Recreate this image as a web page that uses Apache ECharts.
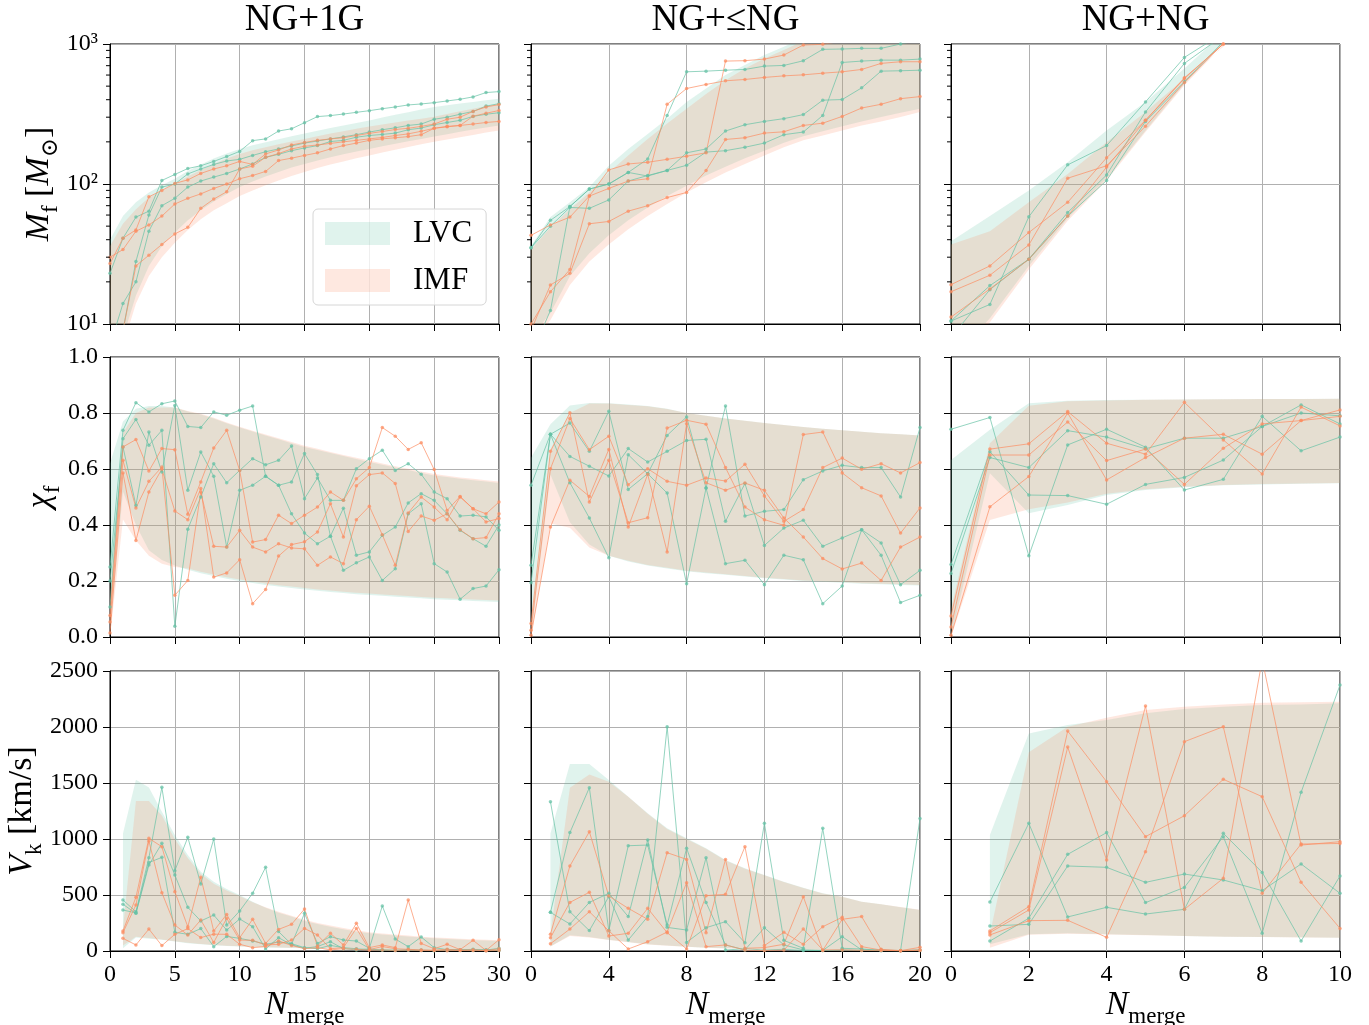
<!DOCTYPE html>
<html>
<head>
<meta charset="utf-8">
<script src="https://cdn.jsdelivr.net/npm/echarts@6/dist/echarts.min.js"></script>
<style>html,body{margin:0;padding:0;background:#fff}#c{width:1369px;height:1025px}</style>
</head>
<body>
<div id="c"></div>
<script>
// ---------- categories / ticks ----------
const colTitles = ['NG+1G', 'NG+\u2264NG', 'NG+NG'];
const N_col1 = Array.from({length: 31}, (_, i) => i);
const N_col2 = Array.from({length: 21}, (_, i) => i);
const N_col3 = Array.from({length: 11}, (_, i) => i);
const xMaxes = [30, 20, 10];
const xIntervals = [5, 4, 2];
const logMinorTicks = [20, 30, 40, 50, 60, 70, 80, 90, 200, 300, 400, 500, 600, 700, 800, 900];

// ---------- Row 1: M_f ----------
// NG+1G
const mf1_lvc_lo = [5, 8, 16, 26, 36, 45, 55, 65, 75, 85, 95, 104, 113, 122, 131, 139, 147, 155, 163, 171, 178, 186, 194, 202, 210, 218, 227, 236, 245, 253, 262];
const mf1_lvc_hi = [40, 59, 74, 87, 98, 109, 124, 138, 152, 165, 178, 189, 199, 209, 219, 229, 240, 251, 262, 273, 284, 298, 312, 326, 340, 355, 365, 376, 386, 397, 407];
const mf1_imf_lo = [4, 7, 14, 22, 30, 38, 47, 56, 65, 73, 82, 90, 98, 106, 114, 122, 130, 138, 145, 153, 160, 168, 176, 184, 192, 200, 208, 216, 224, 233, 241];
const mf1_imf_hi = [36, 52, 66, 80, 90, 100, 113, 126, 139, 152, 164, 174, 183, 192, 201, 210, 219, 229, 238, 248, 257, 266, 275, 284, 293, 302, 316, 331, 345, 360, 374];
const mf1_g1 = [23, 41, 58, 64, 106, 117, 129, 135, 145, 157, 171, 204, 210, 239, 248, 274, 303, 308, 316, 325, 334, 345, 355, 367, 373, 381, 392, 403, 419, 450, 457];
const mf1_g2 = [7, 14, 20, 46, 70, 79, 95, 105, 112, 119, 128, 139, 155, 163, 173, 181, 188, 201, 205, 216, 222, 226, 231, 244, 251, 265, 275, 285, 304, 315, 323];
const mf1_g3 = [5, 9, 28, 60, 95, 100, 118, 128, 138, 146, 150, 160, 170, 178, 187, 196, 203, 210, 217, 225, 235, 244, 252, 262, 268, 290, 300, 315, 330, 360, 375];
const mf1_o1 = [27, 41, 47, 81, 90, 101, 107, 119, 128, 135, 145, 138, 164, 175, 190, 198, 205, 210, 214, 222, 230, 237, 245, 250, 258, 268, 290, 300, 330, 355, 369];
const mf1_o2 = [30, 34, 46, 51, 59, 72, 79, 85, 93, 100, 109, 115, 123, 147, 153, 160, 167, 178, 188, 196, 205, 210, 214, 218, 225, 250, 258, 262, 305, 320, 335];
const mf1_o3 = [6, 9, 26, 31, 37, 44, 49, 67, 78, 88, 128, 134, 155, 165, 178, 186, 190, 195, 200, 205, 210, 215, 222, 228, 238, 250, 256, 262, 268, 275, 280];
// NG+<=NG
const mf2_lvc_lo = [8, 12, 22, 32, 43, 55, 68, 82, 97, 115, 133, 153, 173, 197, 219, 238, 259, 280, 301, 323, 345];
const mf2_lvc_hi = [36, 58, 74, 95, 135, 178, 228, 293, 386, 481, 600, 707, 834, 957, 1100, 1200, 1300, 1380, 1450, 1520, 1600];
const mf2_imf_lo = [7, 10.7, 19, 28, 37, 47.5, 59, 72, 87, 103, 121, 139, 160, 183, 205, 222, 241, 262, 280, 301, 327];
const mf2_imf_hi = [34, 49, 66, 87, 121, 160, 210, 270, 345, 440, 552, 668, 789, 906, 1050, 1150, 1250, 1330, 1400, 1450, 1500];
const mf2_g1 = [35, 55, 69, 92, 100, 121, 151, 309, 633, 640, 650, 658, 695, 703, 759, 916, 921, 931, 931, 1000, 1070];
const mf2_g2 = [35, 50, 68, 67, 77, 105, 115, 125, 136, 169, 173, 183, 196, 225, 235, 309, 738, 755, 767, 767, 780];
const mf2_g3 = [6, 12.5, 69, 92, 100, 121, 114, 125, 167, 178, 239, 265, 280, 293, 313, 397, 401, 486, 640, 644, 650];
const mf2_o1 = [43, 51, 58, 82, 126, 139, 143, 150, 158, 167, 755, 760, 780, 834, 983, 995, 1050, 1080, 1100, 1120, 1150];
const mf2_o2 = [10, 17, 24.5, 82, 93, 105, 109, 371, 481, 514, 546, 558, 577, 592, 602, 619, 633, 658, 727, 747, 747];
const mf2_o3 = [9, 19, 23, 52, 54, 64, 70, 80, 87, 125, 208, 214, 231, 236, 262, 272, 304, 349, 371, 407, 421];
// NG+NG
const mf3_lvc_lo = [5.5, 11, 26, 57, 110, 240, 520, 1000, 2000, 3800, 7000];
const mf3_lvc_hi = [39, 59, 90, 143, 241, 386, 668, 1200, 2200, 4000, 7200];
const mf3_imf_lo = [5, 10.3, 24.5, 54.6, 106, 235, 508, 983, 1900, 3600, 6500];
const mf3_imf_hi = [37, 46, 74, 118, 199, 327, 567, 957, 1800, 3500, 6000];
const mf3_g1 = [10.5, 13.8, 58.3, 137, 188, 386, 802, 1200, 2500, 5000, 9000];
const mf3_g2 = [10.5, 18.8, 29, 62.6, 116, 327, 727, 1150, 2400, 4800, 8500];
const mf3_g3 = [8, 17.6, 29, 59, 106, 280, 537, 1040, 2200, 4500, 8000];
const mf3_o1 = [19.1, 26, 45, 74, 154, 285, 573, 998, 2000, 4000, 7500];
const mf3_o2 = [17, 22.3, 36.7, 110, 135, 259, 531, 1010, 2100, 4200, 7800];
const mf3_o3 = [11.2, 17.8, 29, 59, 132, 285, 567, 1000, 2000, 4100, 7600];

// ---------- Row 2: chi_f ----------
const chi1_lvc_lo = [0.02, 0.52, 0.40, 0.31, 0.275, 0.255, 0.24, 0.228, 0.218, 0.208, 0.2, 0.193, 0.186, 0.18, 0.175, 0.17, 0.165, 0.161, 0.157, 0.153, 0.15, 0.147, 0.144, 0.141, 0.138, 0.135, 0.133, 0.131, 0.129, 0.127, 0.125];
const chi1_lvc_hi = [0.62, 0.77, 0.815, 0.825, 0.825, 0.82, 0.805, 0.795, 0.78, 0.763, 0.748, 0.734, 0.72, 0.706, 0.692, 0.679, 0.668, 0.657, 0.646, 0.636, 0.625, 0.615, 0.605, 0.596, 0.586, 0.577, 0.571, 0.565, 0.56, 0.555, 0.55];
const chi1_imf_lo = [0.0, 0.42, 0.345, 0.29, 0.262, 0.25, 0.245, 0.233, 0.223, 0.213, 0.205, 0.198, 0.191, 0.185, 0.18, 0.175, 0.17, 0.166, 0.162, 0.158, 0.155, 0.152, 0.149, 0.146, 0.143, 0.14, 0.138, 0.136, 0.134, 0.132, 0.13];
const chi1_imf_hi = [0.15, 0.73, 0.80, 0.82, 0.82, 0.82, 0.807, 0.797, 0.783, 0.766, 0.751, 0.737, 0.723, 0.71, 0.696, 0.683, 0.672, 0.661, 0.65, 0.64, 0.63, 0.62, 0.61, 0.601, 0.591, 0.582, 0.576, 0.57, 0.565, 0.56, 0.555];
const chi1_g1 = [0.25, 0.738, 0.837, 0.804, 0.833, 0.843, 0.752, 0.748, 0.804, 0.792, 0.81, 0.825, 0.574, 0.542, 0.44, 0.371, 0.333, 0.36, 0.238, 0.265, 0.286, 0.202, 0.244, 0.44, 0.476, 0.262, 0.232, 0.135, 0.173, 0.182, 0.24];
const chi1_g2 = [0.107, 0.708, 0.777, 0.685, 0.738, 0.038, 0.385, 0.5, 0.619, 0.551, 0.595, 0.637, 0.615, 0.631, 0.682, 0.494, 0.568, 0.488, 0.488, 0.601, 0.637, 0.667, 0.595, 0.619, 0.581, 0.518, 0.494, 0.432, 0.435, 0.429, 0.381];
const chi1_g3 = [0.2, 0.679, 0.47, 0.732, 0.589, 0.827, 0.524, 0.661, 0.574, 0.321, 0.524, 0.542, 0.574, 0.542, 0.554, 0.655, 0.58, 0.36, 0.46, 0.292, 0.304, 0.363, 0.393, 0.479, 0.512, 0.488, 0.44, 0.381, 0.351, 0.324, 0.4];
const chi1_o1 = [0.077, 0.679, 0.705, 0.593, 0.673, 0.669, 0.438, 0.554, 0.675, 0.738, 0.595, 0.339, 0.348, 0.435, 0.405, 0.435, 0.464, 0.518, 0.488, 0.565, 0.605, 0.748, 0.717, 0.67, 0.694, 0.598, 0.452, 0.502, 0.458, 0.44, 0.482];
const chi1_o2 = [0.054, 0.631, 0.461, 0.556, 0.607, 0.149, 0.202, 0.518, 0.324, 0.321, 0.381, 0.321, 0.304, 0.333, 0.318, 0.315, 0.256, 0.286, 0.262, 0.419, 0.467, 0.365, 0.256, 0.443, 0.5, 0.464, 0.419, 0.5, 0.458, 0.411, 0.423];
const chi1_o3 = [0.014, 0.586, 0.345, 0.518, 0.6, 0.45, 0.419, 0.53, 0.214, 0.229, 0.276, 0.119, 0.17, 0.289, 0.33, 0.34, 0.375, 0.476, 0.357, 0.54, 0.58, 0.586, 0.548, 0.377, 0.432, 0.417, 0.44, 0.383, 0.351, 0.355, 0.44];

const chi2_lvc_lo = [0.0, 0.58, 0.41, 0.33, 0.29, 0.27, 0.255, 0.245, 0.235, 0.228, 0.222, 0.216, 0.21, 0.205, 0.2, 0.197, 0.194, 0.19, 0.188, 0.186, 0.184];
const chi2_lvc_hi = [0.64, 0.76, 0.827, 0.836, 0.835, 0.83, 0.825, 0.815, 0.8, 0.79, 0.78, 0.772, 0.764, 0.757, 0.75, 0.744, 0.738, 0.733, 0.728, 0.724, 0.72];
const chi2_imf_lo = [0.0, 0.405, 0.39, 0.32, 0.29, 0.272, 0.257, 0.247, 0.237, 0.23, 0.224, 0.218, 0.212, 0.207, 0.202, 0.199, 0.196, 0.192, 0.19, 0.188, 0.186];
const chi2_imf_hi = [0.02, 0.67, 0.8, 0.834, 0.834, 0.829, 0.824, 0.814, 0.8, 0.79, 0.78, 0.772, 0.764, 0.757, 0.75, 0.744, 0.738, 0.733, 0.728, 0.724, 0.72];
const chi2_g1 = [0.542, 0.724, 0.764, 0.663, 0.806, 0.527, 0.583, 0.72, 0.786, 0.532, 0.825, 0.432, 0.449, 0.455, 0.562, 0.593, 0.613, 0.605, 0.605, 0.5, 0.748];
const chi2_g2 = [0.256, 0.724, 0.645, 0.61, 0.575, 0.673, 0.625, 0.663, 0.702, 0.706, 0.413, 0.548, 0.327, 0.389, 0.417, 0.324, 0.354, 0.383, 0.336, 0.187, 0.238];
const chi2_g3 = [0.194, 0.724, 0.551, 0.425, 0.283, 0.651, 0.583, 0.514, 0.19, 0.532, 0.262, 0.274, 0.187, 0.292, 0.276, 0.119, 0.182, 0.383, 0.292, 0.123, 0.149];
const chi2_o1 = [0.048, 0.663, 0.801, 0.482, 0.631, 0.408, 0.426, 0.746, 0.774, 0.76, 0.605, 0.464, 0.419, 0.399, 0.723, 0.732, 0.586, 0.533, 0.504, 0.371, 0.461];
const chi2_o2 = [0.024, 0.601, 0.78, 0.669, 0.717, 0.544, 0.601, 0.556, 0.542, 0.568, 0.557, 0.617, 0.504, 0.413, 0.455, 0.605, 0.639, 0.599, 0.619, 0.586, 0.623];
const chi2_o3 = [0.006, 0.393, 0.56, 0.502, 0.67, 0.393, 0.581, 0.304, 0.762, 0.551, 0.524, 0.55, 0.524, 0.425, 0.357, 0.28, 0.243, 0.264, 0.202, 0.321, 0.357];

const chi3_lvc_lo = [0.0, 0.585, 0.442, 0.471, 0.507, 0.525, 0.535, 0.542, 0.545, 0.547, 0.549];
const chi3_lvc_hi = [0.632, 0.74, 0.835, 0.844, 0.846, 0.847, 0.848, 0.849, 0.85, 0.85, 0.851];
const chi3_imf_lo = [0.0, 0.418, 0.456, 0.48, 0.512, 0.528, 0.537, 0.543, 0.546, 0.548, 0.55];
const chi3_imf_hi = [0.1, 0.692, 0.826, 0.842, 0.845, 0.847, 0.848, 0.849, 0.85, 0.85, 0.851];
const chi3_g1 = [0.742, 0.784, 0.29, 0.686, 0.742, 0.678, 0.525, 0.563, 0.788, 0.665, 0.714];
const chi3_g2 = [0.259, 0.662, 0.507, 0.505, 0.474, 0.545, 0.57, 0.632, 0.752, 0.829, 0.761];
const chi3_g3 = [0.227, 0.641, 0.605, 0.737, 0.714, 0.672, 0.71, 0.71, 0.752, 0.8, 0.79];
const chi3_o1 = [0.075, 0.671, 0.69, 0.805, 0.692, 0.653, 0.838, 0.704, 0.582, 0.821, 0.754];
const chi3_o2 = [0.036, 0.65, 0.65, 0.768, 0.63, 0.671, 0.545, 0.674, 0.761, 0.773, 0.811];
const chi3_o3 = [0.006, 0.465, 0.573, 0.8, 0.561, 0.641, 0.71, 0.724, 0.653, 0.773, 0.788];

// ---------- Row 3: V_k [km/s] ----------
const vk1_lvc_lo = [null, 25, 120, 110, 100, 85, 70, 60, 52, 45, 40, 36, 32, 29, 26, 24, 22, 20, 18, 17, 16, 15, 14, 13, 12, 11, 10, 9, 9, 8, 8];
const vk1_lvc_hi = [null, 1050, 1530, 1460, 1244, 1036, 857, 708, 619, 554, 500, 440, 387, 342, 307, 268, 240, 217, 195, 175, 158, 148, 138, 130, 120, 113, 108, 102, 97, 93, 89];
const vk1_imf_lo = [null, 50, 128, 115, 103, 88, 73, 62, 54, 47, 42, 38, 34, 31, 28, 26, 24, 22, 20, 19, 18, 17, 16, 15, 14, 13, 12, 11, 11, 10, 10];
const vk1_imf_hi = [null, 200, 1340, 1340, 1210, 1000, 830, 690, 600, 540, 490, 435, 390, 350, 315, 278, 250, 227, 205, 185, 168, 157, 147, 138, 128, 121, 115, 109, 104, 100, 96];
const vk1_g1 = [null, 455, 351, 833, 1461, 717, 1015, 598, 1000, 232, 357, 515, 747, 173, 60, 336, 68, 128, 98, 89, 24, 402, 107, 39, 125, 30, 12, 10, 15, 8, 24];
const vk1_g2 = [null, 417, 336, 768, 961, 679, 390, 268, 321, 187, 286, 217, 18, 119, 55, 24, 40, 83, 20, 10, 18, 8, 5, 12, 8, 5, 9, 12, 8, 10, 6];
const vk1_g3 = [null, 366, 340, 790, 836, 167, 149, 200, 39, 130, 113, 90, 60, 80, 65, 30, 20, 50, 30, 20, 12, 10, 8, 6, 4, 3, 6, 4, 5, 3, 5];
const vk1_o1 = [null, 179, 479, 1006, 931, 530, 217, 658, 179, 327, 119, 283, 68, 193, 238, 375, 45, 158, 54, 247, 30, 54, 30, 455, 68, 20, 60, 12, 95, 5, 101];
const vk1_o2 = [null, 164, 411, 982, 521, 232, 143, 277, 77, 292, 98, 95, 54, 60, 98, 202, 143, 20, 30, 202, 12, 40, 20, 15, 10, 8, 15, 8, 12, 4, 20];
const vk1_o3 = [null, 113, 54, 196, 48, 149, 200, 120, 150, 149, 60, 30, 40, 90, 50, 20, 30, 10, 20, 15, 8, 10, 5, 8, 5, 4, 3, 5, 4, 3, 5];

const vk2_lvc_lo = [null, 40, 140, 125, 100, 80, 60, 48, 38, 30, 24, 20, 16, 14, 12, 10, 9, 8, 7, 6, 5];
const vk2_lvc_hi = [null, 1050, 1670, 1670, 1527, 1378, 1229, 1095, 1006, 917, 812, 738, 679, 619, 565, 515, 485, 440, 417, 390, 366];
const vk2_imf_lo = [null, 40, 135, 120, 98, 78, 58, 46, 37, 29, 23, 19, 15, 13, 11, 10, 9, 8, 7, 6, 5];
const vk2_imf_hi = [null, 150, 1458, 1577, 1512, 1378, 1225, 1090, 1000, 912, 808, 735, 676, 616, 563, 514, 484, 440, 418, 392, 368];
const vk2_g1 = [null, 1333, 351, 182, 485, 98, 307, 2003, 77, 208, 262, 74, 1140, 95, 24, 1095, 24, 18, 5, 3, 1184];
const vk2_g2 = [null, 345, 1057, 1458, 182, 940, 946, 232, 917, 434, 54, 10, 208, 54, 10, 5, 128, 10, 8, 4, 10];
const vk2_g3 = [null, 345, 241, 434, 515, 307, 991, 211, 187, 833, 9, 20, 9, 15, 5, 4, 8, 5, 3, 2, 4];
const vk2_o1 = [null, 149, 759, 1065, 491, 381, 283, 878, 818, 164, 818, 24, 30, 60, 485, 5, 283, 307, 15, 3, 33];
const vk2_o2 = [null, 119, 434, 524, 134, 158, 381, 164, 18, 494, 506, 931, 48, 167, 60, 217, 301, 39, 8, 2, 10];
const vk2_o3 = [null, 65, 196, 351, 180, 18, 83, 170, 610, 39, 54, 8, 5, 8, 196, 10, 10, 5, 5, 3, 5];

const vk3_lvc_lo = [null, 60, 149, 158, 150, 143, 135, 128, 125, 122, 119];
const vk3_lvc_hi = [null, 1036, 1943, 2018, 2062, 2122, 2160, 2181, 2196, 2202, 2211];
const vk3_imf_lo = [null, 30, 145, 155, 148, 141, 133, 127, 124, 121, 118];
const vk3_imf_hi = [null, 150, 1774, 2003, 2083, 2152, 2181, 2202, 2217, 2220, 2226];
const vk3_g1 = [null, 437, 1140, 304, 390, 330, 372, 1051, 702, 89, 670];
const vk3_g2 = [null, 223, 238, 759, 747, 613, 687, 634, 539, 777, 515];
const vk3_g3 = [null, 89, 292, 863, 1057, 432, 568, 1021, 158, 1417, 2375];
const vk3_o1 = [null, 179, 396, 1964, 1512, 1021, 1208, 1533, 1378, 613, 202];
const vk3_o2 = [null, 164, 366, 1821, 813, 2187, 372, 649, 2600, 946, 976];
const vk3_o3 = [null, 143, 271, 274, 122, 887, 1869, 2003, 515, 955, 960];

// ---------- styling ----------
const FONT = '"Liberation Serif", "DejaVu Serif", serif';
const GREEN = '#66c2a5', ORANGE = '#fc8d62';
const GREEN_FILL = 'rgba(102,194,165,0.2)', ORANGE_FILL = 'rgba(252,141,98,0.2)';
const lefts = [110, 531, 951], tops = [44, 357, 671], W = 389, H = 280;

const panels = [
  {r:0,c:0,N:N_col1,lvc:[mf1_lvc_lo,mf1_lvc_hi],imf:[mf1_imf_lo,mf1_imf_hi],g:[mf1_g1,mf1_g2,mf1_g3],o:[mf1_o1,mf1_o2,mf1_o3]},
  {r:0,c:1,N:N_col2,lvc:[mf2_lvc_lo,mf2_lvc_hi],imf:[mf2_imf_lo,mf2_imf_hi],g:[mf2_g1,mf2_g2,mf2_g3],o:[mf2_o1,mf2_o2,mf2_o3]},
  {r:0,c:2,N:N_col3,lvc:[mf3_lvc_lo,mf3_lvc_hi],imf:[mf3_imf_lo,mf3_imf_hi],g:[mf3_g1,mf3_g2,mf3_g3],o:[mf3_o1,mf3_o2,mf3_o3]},
  {r:1,c:0,N:N_col1,lvc:[chi1_lvc_lo,chi1_lvc_hi],imf:[chi1_imf_lo,chi1_imf_hi],g:[chi1_g1,chi1_g2,chi1_g3],o:[chi1_o1,chi1_o2,chi1_o3]},
  {r:1,c:1,N:N_col2,lvc:[chi2_lvc_lo,chi2_lvc_hi],imf:[chi2_imf_lo,chi2_imf_hi],g:[chi2_g1,chi2_g2,chi2_g3],o:[chi2_o1,chi2_o2,chi2_o3]},
  {r:1,c:2,N:N_col3,lvc:[chi3_lvc_lo,chi3_lvc_hi],imf:[chi3_imf_lo,chi3_imf_hi],g:[chi3_g1,chi3_g2,chi3_g3],o:[chi3_o1,chi3_o2,chi3_o3]},
  {r:2,c:0,N:N_col1,lvc:[vk1_lvc_lo,vk1_lvc_hi],imf:[vk1_imf_lo,vk1_imf_hi],g:[vk1_g1,vk1_g2,vk1_g3],o:[vk1_o1,vk1_o2,vk1_o3]},
  {r:2,c:1,N:N_col2,lvc:[vk2_lvc_lo,vk2_lvc_hi],imf:[vk2_imf_lo,vk2_imf_hi],g:[vk2_g1,vk2_g2,vk2_g3],o:[vk2_o1,vk2_o2,vk2_o3]},
  {r:2,c:2,N:N_col3,lvc:[vk3_lvc_lo,vk3_lvc_hi],imf:[vk3_imf_lo,vk3_imf_hi],g:[vk3_g1,vk3_g2,vk3_g3],o:[vk3_o1,vk3_o2,vk3_o3]}
];

// polygon clipping (Sutherland-Hodgman) to the grid rectangle
function clipEdge(pts, inside, inter) {
  const out = [];
  for (let i = 0; i < pts.length; i++) {
    const cur = pts[i], prev = pts[(i + pts.length - 1) % pts.length];
    const ci = inside(cur), pi = inside(prev);
    if (ci) { if (!pi) out.push(inter(prev, cur)); out.push(cur); }
    else if (pi) out.push(inter(prev, cur));
  }
  return out;
}
const ix = (a, b, x) => { const t = (x - a[0]) / (b[0] - a[0]); return [x, a[1] + t * (b[1] - a[1])]; };
const iy = (a, b, y) => { const t = (y - a[1]) / (b[1] - a[1]); return [a[0] + t * (b[0] - a[0]), y]; };
function clipPoly(pts, x0, y0, x1, y1) {
  let p = pts;
  p = clipEdge(p, q => q[0] >= x0, (a, b) => ix(a, b, x0)); if (!p.length) return p;
  p = clipEdge(p, q => q[0] <= x1, (a, b) => ix(a, b, x1)); if (!p.length) return p;
  p = clipEdge(p, q => q[1] >= y0, (a, b) => iy(a, b, y0)); if (!p.length) return p;
  p = clipEdge(p, q => q[1] <= y1, (a, b) => iy(a, b, y1));
  return p;
}

const grids = [], xAxes = [], yAxes = [], series = [];
const rich = {
  i: {fontFamily: FONT, fontStyle: 'italic', fontSize: 34, color: '#000', verticalAlign: 'bottom', padding: [0, 0, 7, 0]},
  r: {fontFamily: FONT, fontSize: 34, color: '#000', verticalAlign: 'bottom', padding: [0, 0, 7, 0]},
  s: {fontFamily: FONT, fontSize: 23, color: '#000', verticalAlign: 'bottom'}
};
const yNames = ['{i|M}{s|f}{r| [}{i|M}{s|\u2299}{r|]}', '{i|\u03c7}{s|f}', '{i|V}{s|k}{r| [km/s]}'];
const yGaps = [47, 46, 64];
const supDigits = {1: '\u00b9', 2: '\u00b2', 3: '\u00b3'};

panels.forEach((p, idx) => {
  grids.push({left: lefts[p.c], top: tops[p.r], width: W, height: H, show: true,
    containLabel: false, outerBoundsMode: 'none',
    borderColor: '#000', borderWidth: 1, backgroundColor: 'transparent'});
  xAxes.push({
    gridIndex: idx, type: 'value', min: 0, max: xMaxes[p.c], interval: xIntervals[p.c],
    name: p.r === 2 ? '{i|N}{s|merge}' : '', nameLocation: 'middle', nameGap: 32,
    nameTextStyle: {rich},
    axisLine: {show: true, onZero: false, lineStyle: {color: '#000', width: 1}},
    axisTick: {show: true, inside: false, length: 7, lineStyle: {color: '#000', width: 1}},
    axisLabel: {show: p.r === 2, fontFamily: FONT, fontSize: 24, color: '#000', margin: 12,
      showMinLabel: true, showMaxLabel: true, formatter: v => String(v)},
    splitLine: {show: true, lineStyle: {color: '#b0b0b0', width: 1}}
  });
  const yBase = {
    gridIndex: idx,
    name: p.c === 0 ? yNames[p.r] : '', nameLocation: 'middle', nameRotate: 90, nameGap: yGaps[p.r],
    nameTextStyle: {rich},
    axisLine: {show: true, onZero: false, lineStyle: {color: '#000', width: 1}},
    axisTick: {show: true, inside: false, length: 7, lineStyle: {color: '#000', width: 1}},
    axisLabel: {show: p.c === 0, fontFamily: FONT, fontSize: 24, color: '#000', margin: 12,
      showMinLabel: true, showMaxLabel: true},
    splitLine: {show: true, lineStyle: {color: '#b0b0b0', width: 1}},
    minorTick: {show: false}
  };
  if (p.r === 0) {
    yAxes.push(Object.assign(yBase, {type: 'log', logBase: 10, min: 10, max: 1000,
      axisLabel: Object.assign(yBase.axisLabel, {formatter: v => '10' + supDigits[Math.round(Math.log10(v))]})}));
  } else if (p.r === 1) {
    yAxes.push(Object.assign(yBase, {type: 'value', min: 0, max: 1, interval: 0.2,
      axisLabel: Object.assign(yBase.axisLabel, {formatter: v => v.toFixed(1)})}));
  } else {
    yAxes.push(Object.assign(yBase, {type: 'value', min: 0, max: 2500, interval: 500,
      axisLabel: Object.assign(yBase.axisLabel, {formatter: v => String(Math.round(v))})}));
  }

  // bands
  const band = (name, lohi, fill) => {
    const data = p.N.map((n, i) => [n, lohi[0][i], lohi[1][i]]).filter(d => d[1] != null && d[2] != null);
    return {
      type: 'custom', name, xAxisIndex: idx, yAxisIndex: idx, z: 1, silent: true, clip: false,
      itemStyle: {color: fill}, data, encode: {x: 0, y: [1, 2]},
      renderItem(params, api) {
        if (params.dataIndex !== 0) return null;
        const pts = [];
        for (let i = 0; i < data.length; i++) pts.push(api.coord([data[i][0], data[i][1]]));
        for (let i = data.length - 1; i >= 0; i--) pts.push(api.coord([data[i][0], data[i][2]]));
        const cs = params.coordSys;
        const poly = clipPoly(pts, cs.x, cs.y, cs.x + cs.width, cs.y + cs.height);
        if (poly.length < 3) return null;
        return {type: 'polygon', shape: {points: poly}, style: {fill, stroke: null}};
      }
    };
  };
  series.push(band('LVC', p.lvc, GREEN_FILL));
  series.push(band('IMF', p.imf, ORANGE_FILL));

  // trajectories
  const line = (vals, color) => ({
    type: 'line', xAxisIndex: idx, yAxisIndex: idx, z: 3, silent: true, clip: true,
    data: p.N.map((n, i) => [n, vals[i] == null ? '-' : vals[i]]),
    symbol: 'circle', symbolSize: 3.5, showSymbol: true, connectNulls: false,
    lineStyle: {color, width: 1, opacity: 0.7}, itemStyle: {color, opacity: 0.75},
    emphasis: {disabled: true}
  });
  p.g.forEach(v => series.push(line(v, GREEN)));
  p.o.forEach(v => series.push(line(v, ORANGE)));

  // log-axis minor ticks
  if (p.r === 0) {
    series.push({
      type: 'custom', xAxisIndex: idx, yAxisIndex: idx, z: 4, silent: true, clip: false,
      data: logMinorTicks.map(v => [0, v]),
      renderItem(params, api) {
        const q = api.coord([api.value(0), api.value(1)]);
        return {type: 'line', shape: {x1: q[0] - 4, y1: q[1], x2: q[0], y2: q[1]},
          style: {stroke: '#000', lineWidth: 1}};
      }
    });
  }
});

const chart = echarts.init(document.getElementById('c'), null, {renderer: 'canvas'});
chart.setOption({
  animation: false,
  backgroundColor: '#fff',
  grid: grids, xAxis: xAxes, yAxis: yAxes, series,
  legend: {
    data: [{name: 'LVC', icon: 'rect'}, {name: 'IMF', icon: 'rect'}],
    orient: 'vertical', left: 313, top: 209, itemWidth: 65, itemHeight: 23, itemGap: 16,
    padding: [9, 14, 9, 12], borderColor: '#d6d6d6', borderWidth: 1, borderRadius: 5,
    backgroundColor: 'rgba(255,255,255,0.8)', selectedMode: false,
    textStyle: {fontFamily: FONT, fontSize: 31, color: '#000', padding: [0, 0, 0, 18]}
  },
  graphic: colTitles.map((t, c) => ({
    type: 'text', x: lefts[c] + W / 2, y: 20, silent: true,
    style: {text: t, fontFamily: FONT, fontSize: 37, fill: '#000', align: 'center', verticalAlign: 'middle'}
  }))
});
</script>
</body>
</html>
